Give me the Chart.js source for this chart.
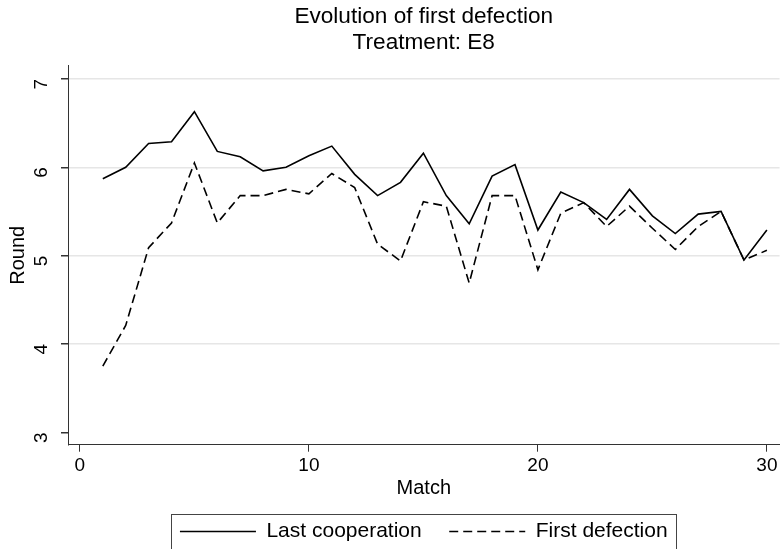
<!DOCTYPE html>
<html lang="en">
<head>
  <meta charset="UTF-8" />
  <title>Evolution of first defection</title>
  <script src="https://cdn.jsdelivr.net/npm/chart.js"></script>
  <style>
    html, body { margin: 0; padding: 0; background: #fff; }
    #wrap { width: 782px; height: 549px; }
  </style>
</head>
<body>
  <div id="wrap"><canvas id="grafico"></canvas></div>
  <script>
    // match number 1..30
    const matches = [1, 2, 3, 4, 5, 6, 7, 8, 9, 10, 11, 12, 13, 14, 15,
                     16, 17, 18, 19, 20, 21, 22, 23, 24, 25, 26, 27, 28, 29, 30];
    // average round of last cooperation
    const lastCooperation = [5.87, 6.00, 6.27, 6.29, 6.63, 6.18, 6.12, 5.96, 6.00, 6.13,
                             6.24, 5.92, 5.68, 5.83, 6.16, 5.68, 5.36, 5.90, 6.03, 5.29,
                             5.72, 5.60, 5.41, 5.75, 5.45, 5.25, 5.47, 5.50, 4.95, 5.29];
    // average round of first defection
    const firstDefection = [3.75, 4.21, 5.09, 5.37, 6.05, 5.37, 5.68, 5.68, 5.75, 5.70,
                            5.93, 5.77, 5.13, 4.94, 5.61, 5.56, 4.69, 5.68, 5.68, 4.84,
                            5.48, 5.60, 5.33, 5.56, 5.31, 5.07, 5.33, 5.50, 4.95, 5.06];
    const xTicks = [0, 10, 20, 30];
    const yTicks = [3, 4, 5, 6, 7];

    const familia = '"Liberation Sans", Arial, sans-serif';
    const fonteTick = { family: familia, size: 19, lineHeight: 1 };
    const fonteEixo = { family: familia, size: 20, lineHeight: 1 };
    const fonteLegenda = { family: familia, size: 21, lineHeight: 1 };
    Chart.defaults.font.family = familia;
    Chart.defaults.color = '#000';

    const pontos = vals => matches.map((m, i) => ({ x: m, y: vals[i] }));

    // frame around the legend, Stata style
    const molduraLegenda = {
      id: 'molduraLegenda',
      afterDraw(chart) {
        const lg = chart.legend;
        if (!lg || !lg.legendHitBoxes.length) return;
        const boxes = lg.legendHitBoxes;
        const ultimo = boxes[boxes.length - 1];
        const left = Math.round(boxes[0].left - 9);
        const right = Math.round(ultimo.left + ultimo.width + 8);
        const top = Math.round(boxes[0].top - 7);
        const ctx = chart.ctx;
        ctx.save();
        ctx.strokeStyle = '#444';
        ctx.lineWidth = 1;
        ctx.strokeRect(left + 0.5, top + 0.5, right - left, chart.height);
        ctx.restore();
      }
    };

    new Chart(document.getElementById('grafico'), {
      type: 'line',
      data: {
        datasets: [
          {
            label: 'Last cooperation',
            data: pontos(lastCooperation),
            borderColor: '#000',
            borderWidth: 1.6,
            pointRadius: 0,
            tension: 0
          },
          {
            label: 'First defection',
            data: pontos(firstDefection),
            borderColor: '#000',
            borderWidth: 1.6,
            borderDash: [9, 5],
            pointRadius: 0,
            tension: 0
          }
        ]
      },
      options: {
        responsive: true,
        maintainAspectRatio: false,
        animation: false,
        layout: { padding: { top: 0, right: 0, bottom: -3, left: 0 } },
        plugins: {
          title: {
            display: true,
            fullSize: false,
            text: ['Evolution of first defection', 'Treatment: E8'],
            font: { family: familia, size: 22.6, weight: 'normal', lineHeight: 1.15 },
            padding: { top: 4, bottom: 10 }
          },
          legend: {
            position: 'bottom',
            fullSize: false,
            labels: {
              usePointStyle: true,
              pointStyle: 'line',
              pointStyleWidth: 76,
              boxHeight: 21,
              padding: 10,
              font: fonteLegenda,
              generateLabels(chart) {
                const itens = Chart.defaults.plugins.legend.labels.generateLabels(chart);
                itens.forEach((it, i) => {
                  const ds = chart.data.datasets[it.datasetIndex];
                  it.lineDash = ds.borderDash || [];
                  it.lineWidth = ds.borderWidth;
                  it.strokeStyle = ds.borderColor;
                  // wider gap between the two keys
                  if (i < itens.length - 1) it.text = ds.label + '   ';
                });
                return itens;
              }
            }
          },
          tooltip: { enabled: false }
        },
        scales: {
          x: {
            type: 'linear',
            min: -0.52,
            max: 30.553,
            afterBuildTicks: s => { s.ticks = xTicks.map(v => ({ value: v })); },
            afterFit: s => { s.height = 66.3; },
            ticks: { padding: 4.5, font: fonteTick },
            grid: { drawOnChartArea: false, tickLength: 7, tickColor: '#333' },
            border: { color: '#333', width: 1 },
            title: { display: true, text: 'Match', font: fonteEixo, padding: { top: 3, bottom: 12.5 } }
          },
          y: {
            min: 2.86,
            max: 7.147,
            afterBuildTicks: s => { s.ticks = yTicks.map(v => ({ value: v })); },
            afterFit: s => { s.width = 68; },
            ticks: { minRotation: 90, maxRotation: 90, padding: 19, font: fonteTick },
            grid: {
              color: ctx => (ctx.tick && ctx.tick.value === 3 ? 'rgba(0,0,0,0)' : '#e6e6e6'),
              lineWidth: 1.5,
              tickLength: 7,
              tickColor: '#333'
            },
            border: { color: '#333', width: 1 },
            title: { display: true, text: 'Round', font: fonteEixo, padding: { top: 8.5, bottom: 2 } }
          }
        }
      },
      plugins: [molduraLegenda]
    });
  </script>
</body>
</html>
